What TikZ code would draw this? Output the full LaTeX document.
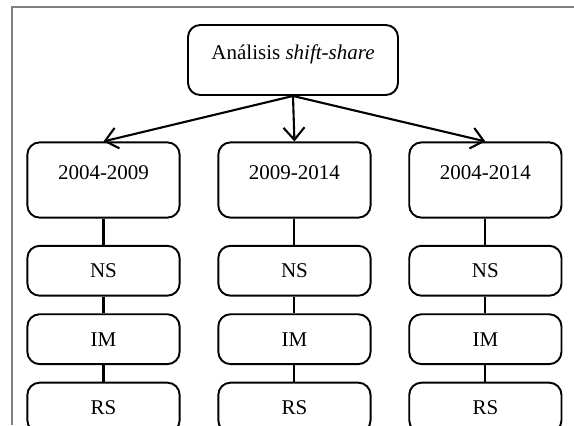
\documentclass[tikz,border=0pt]{standalone}
\usepackage{fontspec}
\setmainfont{Liberation Serif}
\usetikzlibrary{arrows.meta, positioning}
\tikzset{
  box/.style={rectangle, draw, rounded corners=7pt, line width=1.1pt, inner sep=0pt, align=center, font=\fontsize{12}{14}\selectfont},
  topbox/.style={box, minimum width=120pt, minimum height=40pt, text height=8pt, text depth=9pt},
  periodbox/.style={box, minimum width=87pt, minimum height=43pt, text height=8pt, text depth=9pt},
  partbox/.style={box, minimum width=87pt, minimum height=28.5pt},
  arrow/.style={-{Straight Barb[length=7pt, width=12pt, line width=1.2pt]}, line width=1.2pt},
  link/.style={line width=1.2pt},
  frame/.style={gray, line width=1pt},
}

\begin{document}
\begin{tikzpicture}[x=0.5714pt, y=-0.5714pt]
    \path[use as bounding box, clip] (0,0) rectangle (574,425);
    \draw[frame] (12,425) -- (12,7) -- (574,7);
    \node[topbox] (shift) at (293,60) {Análisis \textit{shift-share}};
    \node[periodbox] (p1) at (103.5,180) {2004-2009};
    \node[periodbox, right=21pt of p1] (p2) {2009-2014};
    \node[periodbox, right=21pt of p2] (p3) {2004-2014};
    \foreach \p in {p1,p2,p3} {
      \node[partbox, below=15pt of \p] (\p-ns) {NS};
      \node[partbox, below=9.5pt of \p-ns] (\p-im) {IM};
      \node[partbox, below=9.5pt of \p-im] (\p-rs) {RS};
      \draw[arrow] (shift.south) -- (\p.north);
      \draw[link] (\p.south) -- (\p-ns.north);
      \draw[link] (\p-ns.south) -- (\p-im.north);
      \draw[link] (\p-im.south) -- (\p-rs.north);
    }
  \end{tikzpicture}
\end{document}
